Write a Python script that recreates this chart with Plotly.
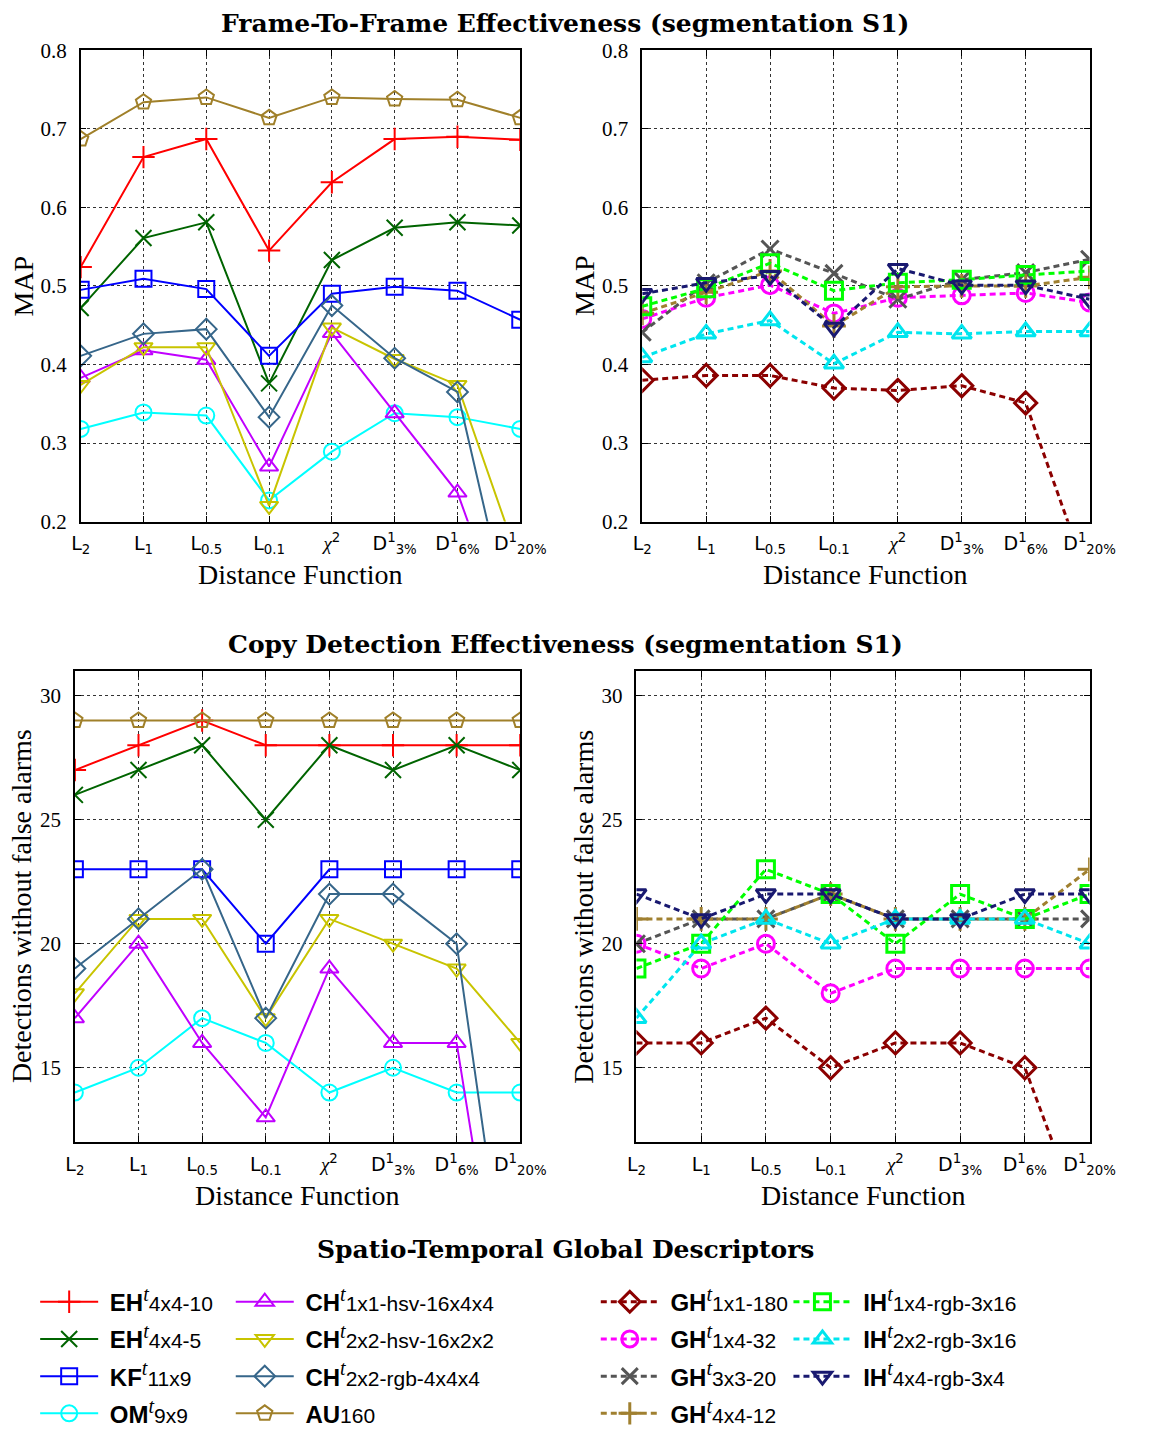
import plotly.graph_objects as go

# ---- distance functions (x axis) ----
dist_names = ["L2", "L1", "L0.5", "L0.1", "chi2", "D1_3%", "D1_6%", "D1_20%"]
dist_ticktext = [
    "L<sub>2</sub>", "L<sub>1</sub>", "L<sub>0.5</sub>", "L<sub>0.1</sub>",
    "<span style='font-family:Liberation Serif;font-style:italic'>χ</span><sup>2</sup>",
    "D<sup>1</sup><sub>3%</sub>", "D<sup>1</sup><sub>6%</sub>", "D<sup>1</sup><sub>20%</sub>",
]

# ---- Frame-to-frame MAP, solid-line descriptors ----
map_eh_4x4_10 = [0.524, 0.664, 0.687, 0.545, 0.632, 0.687, 0.690, 0.686]
map_eh_4x4_5 = [0.472, 0.561, 0.581, 0.376, 0.533, 0.574, 0.581, 0.577]
map_kf_11x9 = [0.495, 0.509, 0.496, 0.411, 0.490, 0.499, 0.494, 0.457]
map_om_9x9 = [0.318, 0.339, 0.335, 0.227, 0.289, 0.338, 0.333, 0.318]
map_ch_1x1_hsv = [0.383, 0.418, 0.406, 0.270, 0.440, 0.338, 0.237, 0.014]
map_ch_2x2_hsv = [0.374, 0.422, 0.422, 0.220, 0.447, 0.407, 0.374, 0.144]
map_ch_2x2_rgb = [0.411, 0.439, 0.445, 0.333, 0.475, 0.408, 0.365, 0.019]
map_au_160 = [0.687, 0.734, 0.740, 0.714, 0.740, 0.738, 0.737, 0.714]

# ---- Frame-to-frame MAP, dashed-line descriptors ----
map_gh_1x1_180 = [0.380, 0.386, 0.386, 0.370, 0.367, 0.373, 0.351, 0.122]
map_gh_1x4_32 = [0.458, 0.485, 0.501, 0.465, 0.485, 0.488, 0.491, 0.479]
map_gh_3x3_20 = [0.441, 0.504, 0.547, 0.516, 0.483, 0.508, 0.517, 0.534]
map_gh_4x4_12 = [0.465, 0.492, 0.519, 0.449, 0.499, 0.500, 0.500, 0.511]
map_ih_1x4_rgb = [0.474, 0.497, 0.529, 0.494, 0.504, 0.508, 0.514, 0.519]
map_ih_2x2_rgb = [0.409, 0.439, 0.456, 0.401, 0.441, 0.439, 0.442, 0.442]
map_ih_4x4_rgb = [0.490, 0.504, 0.513, 0.447, 0.522, 0.501, 0.501, 0.483]

# ---- Copy detection: detections without false alarms ----
det_eh_4x4_10 = [27, 28, 29, 28, 28, 28, 28, 28]
det_eh_4x4_5 = [26, 27, 28, 25, 28, 27, 28, 27]
det_kf_11x9 = [23, 23, 23, 20, 23, 23, 23, 23]
det_om_9x9 = [14, 15, 17, 16, 14, 15, 14, 14]
det_ch_1x1_hsv = [17, 20, 16, 13, 19, 16, 16, 0]
det_ch_2x2_hsv = [18, 21, 21, 17, 21, 20, 19, 16]
det_ch_2x2_rgb = [19, 21, 23, 17, 22, 22, 20, 2]
det_au_160 = [29, 29, 29, 29, 29, 29, 29, 29]

det_gh_1x1_180 = [16, 16, 17, 15, 16, 16, 15, 8]
det_gh_1x4_32 = [20, 19, 20, 18, 19, 19, 19, 19]
det_gh_3x3_20 = [20, 21, 21, 22, 21, 21, 21, 21]
det_gh_4x4_12 = [21, 21, 21, 22, 21, 21, 21, 23]
det_ih_1x4_rgb = [19, 20, 23, 22, 20, 22, 21, 22]
det_ih_2x2_rgb = [17, 20, 21, 20, 21, 21, 21, 20]
det_ih_4x4_rgb = [22, 21, 22, 22, 21, 21, 22, 22]

# ---- descriptor labels ----
def desc_label(prefix, suffix, temporal=True):
    t = ("<sup><span style='font-family:Liberation Serif;font-style:italic;font-weight:normal;"
         "font-size:20px'>t</span></sup>" if temporal else "")
    return (f"&nbsp;<b>{prefix}</b>{t}"
            f"<span style='font-size:21px'>{suffix}</span>")

# The page body keeps an 8px margin, so the figure is sized to fit inside it
# and every placement below is given in page pixels.
PAGE_W, PAGE_H, BODY = 1149, 1452, 8
W, H = PAGE_W - 2 * BODY, PAGE_H - 2 * BODY
SERIF = "Liberation Serif"
SANS = "DejaVu Sans"
LEG_FONT = "Liberation Sans"

def fx(px):
    return (px - BODY) / W

def fy(py):
    return 1 - (py - BODY) / H

# (legend name, top values, bottom values, colour, symbol, legend)
solid_series = [
    (desc_label("EH", "4x4-10"), map_eh_4x4_10, det_eh_4x4_10, "#ff0000", "cross-thin-open", "legend"),
    (desc_label("EH", "4x4-5"), map_eh_4x4_5, det_eh_4x4_5, "#006400", "x-thin-open", "legend"),
    (desc_label("KF", "11x9"), map_kf_11x9, det_kf_11x9, "#0000ff", "square-open", "legend"),
    (desc_label("OM", "9x9"), map_om_9x9, det_om_9x9, "#00ffff", "circle-open", "legend"),
    (desc_label("CH", "1x1-hsv-16x4x4"), map_ch_1x1_hsv, det_ch_1x1_hsv, "#c000ff", "triangle-up-open", "legend2"),
    (desc_label("CH", "2x2-hsv-16x2x2"), map_ch_2x2_hsv, det_ch_2x2_hsv, "#c8c400", "triangle-down-open", "legend2"),
    (desc_label("CH", "2x2-rgb-4x4x4"), map_ch_2x2_rgb, det_ch_2x2_rgb, "#36668a", "diamond-open", "legend2"),
    (desc_label("AU", "160", temporal=False), map_au_160, det_au_160, "#a0802a", "pentagon-open", "legend2"),
]
dashed_series = [
    (desc_label("GH", "1x1-180"), map_gh_1x1_180, det_gh_1x1_180, "#8b0000", "diamond-open", "legend3"),
    (desc_label("GH", "1x4-32"), map_gh_1x4_32, det_gh_1x4_32, "#ff00ff", "circle-open", "legend3"),
    (desc_label("GH", "3x3-20"), map_gh_3x3_20, det_gh_3x3_20, "#555555", "x-thin-open", "legend3"),
    (desc_label("GH", "4x4-12"), map_gh_4x4_12, det_gh_4x4_12, "#a08030", "cross-thin-open", "legend3"),
    (desc_label("IH", "1x4-rgb-3x16"), map_ih_1x4_rgb, det_ih_1x4_rgb, "#00ff00", "square-open", "legend4"),
    (desc_label("IH", "2x2-rgb-3x16"), map_ih_2x2_rgb, det_ih_2x2_rgb, "#00e5ee", "triangle-up-open", "legend4"),
    (desc_label("IH", "4x4-rgb-3x4"), map_ih_4x4_rgb, det_ih_4x4_rgb, "#191970", "triangle-down-open", "legend4"),
]

xs = list(range(len(dist_names)))
fig = go.Figure()

def add_series(series, top_axes, bottom_axes, dashed):
    for i, (name, top_vals, bot_vals, color, symbol, leg) in enumerate(series):
        lw = 3 if dashed else 2
        line = dict(color=color, width=lw, dash="6px,4px" if dashed else "solid")
        marker = dict(symbol=symbol, size=17 if dashed else 16, color=color,
                      line=dict(color=color, width=3 if dashed else 2))
        group = f"g{leg}{i}"
        fig.add_trace(go.Scatter(x=xs, y=top_vals, mode="lines+markers", name=name,
                                 line=line, marker=marker, xaxis=top_axes[0], yaxis=top_axes[1],
                                 legend=leg, legendgroup=group, showlegend=True,
                                 customdata=dist_names, hoverinfo="skip"))
        fig.add_trace(go.Scatter(x=xs, y=bot_vals, mode="lines+markers", name=name,
                                 line=line, marker=marker, xaxis=bottom_axes[0], yaxis=bottom_axes[1],
                                 legend=leg, legendgroup=group, showlegend=False,
                                 customdata=dist_names, hoverinfo="skip"))

add_series(solid_series, ("x", "y"), ("x3", "y3"), dashed=False)
add_series(dashed_series, ("x2", "y2"), ("x4", "y4"), dashed=True)

# panel boxes in page pixels: (left, right, top, bottom)
panels = {
    "1": (81, 535, 47, 527),
    "2": (661, 1123, 47, 527),
    "3": (75, 535, 679, 1159),
    "4": (655, 1123, 679, 1159),
}

common_axis = dict(showline=True, linecolor="black", linewidth=1.5, mirror="ticks",
                   ticks="inside", ticklen=6, tickcolor="black",
                   showgrid=True, gridcolor="#333333", griddash="dot", gridwidth=1,
                   zeroline=False)

layout_axes = {}
for k, (l, r, t, b) in panels.items():
    xname = "xaxis" if k == "1" else f"xaxis{k}"
    yname = "yaxis" if k == "1" else f"yaxis{k}"
    yref = "y" if k == "1" else f"y{k}"
    xref = "x" if k == "1" else f"x{k}"
    layout_axes[xname] = dict(common_axis, domain=[fx(l), fx(r)], anchor=yref, range=[0, 7],
                              tickvals=xs, ticktext=dist_ticktext,
                              tickfont=dict(family=SANS, size=19, color="black"),
                              ticklabelstandoff=4)
    if k in ("1", "2"):
        yrng, ytv = [0.2, 0.8], [0.2, 0.3, 0.4, 0.5, 0.6, 0.7, 0.8]
        ytt = [f"{v:.1f}" for v in ytv]
    else:
        yrng, ytv = [12, 31], [15, 20, 25, 30]
        ytt = [str(v) for v in ytv]
    layout_axes[yname] = dict(common_axis, domain=[fy(b), fy(t)], anchor=xref, range=yrng,
                              tickvals=ytv, ticktext=ytt,
                              tickfont=dict(family=SERIF, size=21, color="black"),
                              ticklabelstandoff=8)

annotations = []
def text_at(x, y, text, size, angle=0, family=SERIF):
    annotations.append(dict(x=fx(x), y=fy(y), xref="paper", yref="paper", text=text,
                            showarrow=False, xanchor="center", yanchor="middle",
                            textangle=angle,
                            font=dict(family=family, size=size, color="black")))

TITLE_FONT = "DejaVu Serif"
text_at(581, 20, "<b>Frame-To-Frame Effectiveness (segmentation S1)</b>", 25, family=TITLE_FONT)
text_at(582, 652, "<b>Copy Detection Effectiveness (segmentation S1)</b>", 25, family=TITLE_FONT)
text_at(582, 1268, "<b>Spatio-Temporal Global Descriptors</b>", 25, family=TITLE_FONT)

text_at(308, 581, "Distance Function", 28)
text_at(892, 581, "Distance Function", 28)
text_at(305, 1213, "Distance Function", 28)
text_at(889, 1213, "Distance Function", 28)
text_at(22, 287, "MAP", 28, angle=-90)
text_at(602, 287, "MAP", 28, angle=-90)
text_at(20, 919, "Detections without false alarms", 28, angle=-90)
text_at(600, 919, "Detections without false alarms", 28, angle=-90)

def legend_box(x, y):
    return dict(x=fx(x), y=fy(y), xanchor="left", yanchor="top",
                orientation="v", traceorder="grouped", tracegroupgap=3,
                itemwidth=58, bgcolor="rgba(0,0,0,0)", borderwidth=0,
                font=dict(family=LEG_FONT, size=24, color="black"),
                itemclick=False, itemdoubleclick=False)

fig.update_layout(
    width=W, height=H, margin=dict(l=0, r=0, t=0, b=0),
    paper_bgcolor="white", plot_bgcolor="white",
    showlegend=True,
    legend=legend_box(34, 1299),
    legend2=legend_box(236, 1299),
    legend3=legend_box(613, 1299),
    legend4=legend_box(812, 1299),
    annotations=annotations,
    **layout_axes,
)

fig.write_html("out.html")
